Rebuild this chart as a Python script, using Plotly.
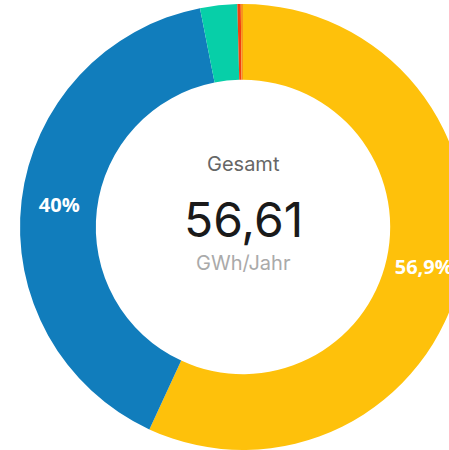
import plotly.graph_objects as go

labels = ["Photovoltaik", "Wind", "Wasser", "Biomasse", "Sonstige"]
values = [32.21, 22.65, 1.52, 0.14, 0.09]
pct_text = ["56,9%", "40%", "", "", ""]
colors = ["#FEC10B", "#117DBC", "#07CFA8", "#F1400F", "#F7931E"]
total_label = "Gesamt"
total_value = "56,61"
total_unit = "GWh/Jahr"

W, H = 470, 450
cx, cy, R = 243, 227, 223

fig = go.Figure(go.Pie(
    labels=labels, values=values, text=pct_text,
    texttemplate="%{text}", textposition="inside",
    insidetextorientation="horizontal",
    textfont=dict(family="Open Sans", size=20, color="white", weight="bold"),
    hole=0.66, sort=False, direction="clockwise", rotation=0,
    marker=dict(colors=colors, line=dict(width=0)),
    domain=dict(x=[(cx - R) / W, (cx + R) / W], y=[(H - cy - R) / H, (H - cy + R) / H]),
    showlegend=False, hoverinfo="label+value",
))

def ann(text, y, size, color):
    fig.add_annotation(text=text, x=cx / W, y=1 - y / H, xref="paper", yref="paper",
                       xanchor="center", yanchor="middle", showarrow=False,
                       font=dict(family="Inter", size=size, color=color))

ann(total_label, 164, 20, "#666666")
ann(total_value, 219, 48, "#1a1a1a")
ann(total_unit, 263, 20, "#AAAAAA")

fig.update_layout(width=W, height=H, margin=dict(l=0, r=0, t=0, b=0),
                  paper_bgcolor="white", plot_bgcolor="white")

fig.write_html("out.html", config={"displayModeBar": False},
               post_script="document.body.style.margin='0';document.body.style.overflow='hidden';")
